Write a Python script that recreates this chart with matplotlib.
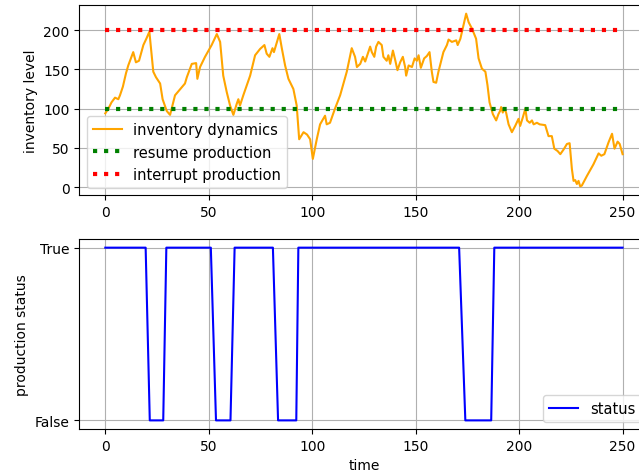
import matplotlib
matplotlib.use("Agg")
import matplotlib.pyplot as plt

# inventory dynamics (time, level)
inv_time = [0, 1.5, 3, 4.7, 6.3, 7.1, 8.5, 10, 11.1, 12.5, 13.5, 14.8, 16.3, 18.4, 20, 21.3,
            23.2, 24.5, 26.5, 27.7, 29.7, 31.3, 33.7, 36.9, 38.5, 39.4, 41.8, 43.9, 44.5, 45.8,
            48.2, 51.4, 53.9, 55.5, 57, 58.7, 60.3, 61.9, 63.5, 64.3, 65.1, 66.7, 70, 72.4,
            74.8, 76.9, 78, 79.3, 80.8, 81.5, 84.1, 85.3, 86.9, 88.5, 90.9, 92.5, 93.7, 95.8,
            97.5, 99, 100.3, 102.2, 103.8, 106.2, 107, 108.6, 111, 113.5, 116.7, 119.1, 120.7,
            121.6, 123.2, 124.5, 125.6, 128, 128.8, 130, 130.9, 132, 133.6, 134.4, 136, 136.8,
            137.7, 139, 140.1, 141.2, 142.5, 143.8, 144.9, 145.4, 146.6, 148.2, 149.5, 150.6,
            151.4, 152.5, 154.1, 155.4, 156.7, 157.8, 158.6, 159.9, 161, 163.4, 165.1, 165.9,
            167.5, 169.6, 170.3, 171.6, 173.1, 174.4, 175.6, 177.2, 179.2, 180.4, 182, 183.7,
            184.7, 185.7, 187.3, 188.9, 190, 190.8, 191.3, 192.1, 192.7, 193.7, 194.9, 196.5,
            198.1, 199.7, 200.5, 201.8, 203, 203.8, 205.1, 206.2, 207, 208.6, 209.9, 212.6,
            214.2, 215.8, 217, 218.6, 219.9, 221.5, 223.1, 224.4, 225.5, 226.3, 227.1, 227.9,
            228.7, 229.5, 230.3, 232.7, 235.9, 238.4, 239.7, 241.2, 243.2, 244.9, 246.1, 247.6,
            248.6, 250]
inv_level = [94, 100, 108, 114, 112, 117, 128, 145, 155, 165, 172, 159, 161, 181, 190, 198,
             147, 140, 132, 112, 97, 92, 117, 127, 132, 140, 157, 158, 138, 153,
             166, 181, 195, 185, 142, 121, 104, 92, 106, 112, 104, 117, 142, 168,
             176, 181, 170, 166, 177, 172, 195, 177, 155, 138, 125, 104, 61, 70,
             67, 61, 36, 61, 80, 91, 80, 82, 100, 117, 147, 177, 166,
             153, 157, 166, 160, 179, 172, 166, 179, 185, 181, 166, 161, 168,
             157, 174, 162, 149, 159, 166, 153, 142, 155, 153, 164, 161,
             168, 152, 164, 167, 172, 147, 134, 133, 147, 172, 181, 188,
             185, 187, 181, 189, 206, 221, 210, 202, 189, 164, 151, 147,
             130, 108, 93, 85, 93, 97, 102, 95, 101, 95, 80, 70,
             78, 87, 78, 89, 100, 85, 82, 85, 80, 82, 80, 79,
             65, 65, 49, 46, 42, 48, 55, 56, 23, 8, 9, 4,
             8, 1, 2, 14, 29, 43, 40, 42, 57, 68, 49, 58,
             55, 42]

# thresholds
threshold_time = [0, 250]
resume_level = [100, 100]
interrupt_level = [200, 200]

# production status (time, on/off)
status_time = [0, 19.5, 21.5, 28, 29.5, 51, 53.5, 60.5, 62.5, 81, 83.5, 92.3, 93.3,
               171, 174, 186.5, 188, 250]
status_value = [1, 1, 0, 0, 1, 1, 0, 0, 1, 1, 0, 0, 1, 1, 0, 0, 1, 1]
status_ticks = [0, 1]
status_labels = ["False", "True"]

fig = plt.figure(figsize=(6.39, 4.77), dpi=100)
ax1 = fig.add_axes([0.1243, 0.5891, 0.8905, 0.3983])
ax2 = fig.add_axes([0.1243, 0.0985, 0.8905, 0.3983])

ax1.plot(inv_time, inv_level, color="orange", label="inventory dynamics")
ax1.plot(threshold_time, resume_level, color="g", linestyle=":", linewidth=3,
         label="resume production")
ax1.plot(threshold_time, interrupt_level, color="r", linestyle=":", linewidth=3,
         label="interrupt production")
ax1.set_ylabel("inventory level")
ax1.grid(True)
ax1.legend(loc="lower left", fontsize=10.5)

ax2.plot(status_time, status_value, color="b", label="status")
ax2.set_yticks(status_ticks)
ax2.set_yticklabels(status_labels)
ax2.set_ylabel("production status")
ax2.set_xlabel("time")
ax2.grid(True)
ax2.legend(loc="lower right", fontsize=10.5)

fig.savefig("out.png", dpi=100)
